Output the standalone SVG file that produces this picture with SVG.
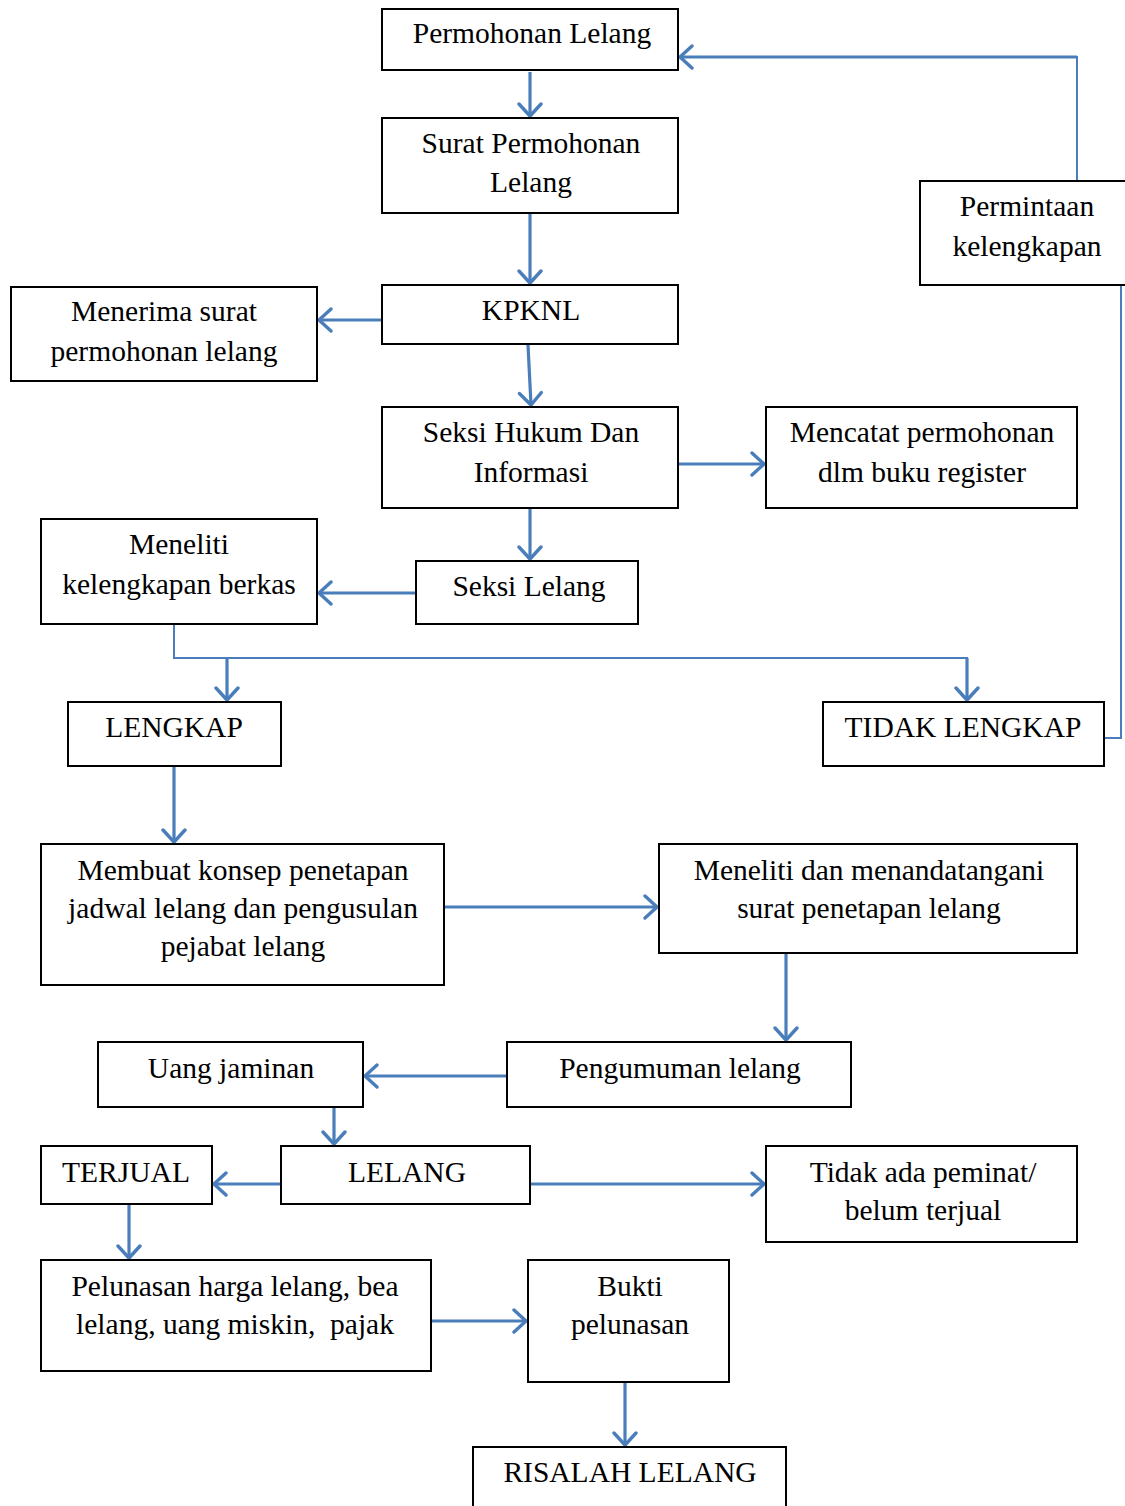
<svg xmlns="http://www.w3.org/2000/svg" width="1125" height="1506" viewBox="0 0 1125 1506">
<style>
.box{fill:#fff;stroke:#000;stroke-width:2}
.t{font-family:"Liberation Serif","Times New Roman",serif;font-size:29.5px;fill:#000;text-anchor:middle}
.c{fill:none;stroke:#4a7ebb;stroke-width:3.2}
.thin{fill:none;stroke:#4a7ebb;stroke-width:2}
</style>
<defs>
<marker id="ah" markerUnits="userSpaceOnUse" markerWidth="30" markerHeight="30" refX="16" refY="13" orient="auto">
<path d="M4,2 L16,13 L4,24" fill="none" stroke="#4a7ebb" stroke-width="3.4" stroke-linecap="round" stroke-linejoin="round"/>
</marker>
</defs>
<rect width="1125" height="1506" fill="#fff"/>
<g id="connectors">
<line class="c" x1="530" y1="72" x2="530" y2="116" marker-end="url(#ah)"/>
<line class="c" x1="530" y1="214" x2="530" y2="283" marker-end="url(#ah)"/>
<line class="c" x1="382" y1="320" x2="319" y2="320" marker-end="url(#ah)"/>
<line class="c" x1="528" y1="345" x2="531" y2="405" marker-end="url(#ah)"/>
<line class="c" x1="679" y1="464" x2="764" y2="464" marker-end="url(#ah)"/>
<line class="c" x1="530" y1="509" x2="530" y2="559" marker-end="url(#ah)"/>
<line class="c" x1="416" y1="593" x2="319" y2="593" marker-end="url(#ah)"/>
<polyline class="thin" points="174,625 174,658 967,658 967,675"/>
<line class="c" x1="967" y1="658" x2="967" y2="700" marker-end="url(#ah)"/>
<line class="c" x1="227" y1="658" x2="227" y2="700" marker-end="url(#ah)"/>
<polyline class="thin" points="1104,738 1121,738 1121,286"/>
<polyline class="thin" points="1077,181 1077,57 900,57"/>
<line class="c" x1="1077" y1="57" x2="680" y2="57" marker-end="url(#ah)"/>
<line class="c" x1="174" y1="767" x2="174" y2="842" marker-end="url(#ah)"/>
<line class="c" x1="445" y1="907" x2="657" y2="907" marker-end="url(#ah)"/>
<line class="c" x1="786" y1="954" x2="786" y2="1040" marker-end="url(#ah)"/>
<line class="c" x1="507" y1="1076" x2="365" y2="1076" marker-end="url(#ah)"/>
<line class="c" x1="334" y1="1108" x2="334" y2="1144" marker-end="url(#ah)"/>
<line class="c" x1="281" y1="1184" x2="214" y2="1184" marker-end="url(#ah)"/>
<line class="c" x1="531" y1="1184" x2="764" y2="1184" marker-end="url(#ah)"/>
<line class="c" x1="129" y1="1205" x2="129" y2="1258" marker-end="url(#ah)"/>
<line class="c" x1="432" y1="1321" x2="526" y2="1321" marker-end="url(#ah)"/>
<line class="c" x1="625" y1="1383" x2="625" y2="1445" marker-end="url(#ah)"/>
</g>
<g id="n1"><rect class="box" x="382" y="9" width="296" height="61"/><text class="t" x="532" y="43">Permohonan Lelang</text></g>
<g id="n2"><rect class="box" x="382" y="118" width="296" height="95"/><text class="t" x="531" y="153">Surat Permohonan</text><text class="t" x="531" y="192">Lelang</text></g>
<g id="n3"><rect class="box" x="382" y="285" width="296" height="59"/><text class="t" x="531" y="320">KPKNL</text></g>
<g id="n4"><rect class="box" x="11" y="287" width="306" height="94"/><text class="t" x="164" y="321">Menerima surat</text><text class="t" x="164" y="361">permohonan lelang</text></g>
<g id="n5"><rect class="box" x="382" y="407" width="296" height="101"/><text class="t" x="531" y="442">Seksi Hukum Dan</text><text class="t" x="531" y="482">Informasi</text></g>
<g id="n6"><rect class="box" x="766" y="407" width="311" height="101"/><text class="t" x="922" y="442">Mencatat permohonan</text><text class="t" x="922" y="482">dlm buku register</text></g>
<g id="n7"><rect class="box" x="41" y="519" width="276" height="105"/><text class="t" x="179" y="554">Meneliti</text><text class="t" x="179" y="594">kelengkapan berkas</text></g>
<g id="n8"><rect class="box" x="416" y="561" width="222" height="63"/><text class="t" x="529" y="596">Seksi Lelang</text></g>
<g id="n9"><rect class="box" x="68" y="702" width="213" height="64"/><text class="t" x="174" y="737">LENGKAP</text></g>
<g id="n10"><rect class="box" x="823" y="702" width="281" height="64"/><text class="t" x="963" y="737">TIDAK LENGKAP</text></g>
<g id="n11"><rect class="box" x="920" y="181" width="210" height="104"/><text class="t" x="1027" y="216">Permintaan</text><text class="t" x="1027" y="256">kelengkapan</text></g>
<g id="n12"><rect class="box" x="41" y="844" width="403" height="141"/><text class="t" x="243" y="880">Membuat konsep penetapan</text><text class="t" x="243" y="918">jadwal lelang dan pengusulan</text><text class="t" x="243" y="956">pejabat lelang</text></g>
<g id="n13"><rect class="box" x="659" y="844" width="418" height="109"/><text class="t" x="869" y="880">Meneliti dan menandatangani</text><text class="t" x="869" y="918">surat penetapan lelang</text></g>
<g id="n14"><rect class="box" x="507" y="1042" width="344" height="65"/><text class="t" x="680" y="1078">Pengumuman lelang</text></g>
<g id="n15"><rect class="box" x="98" y="1042" width="265" height="65"/><text class="t" x="231" y="1078">Uang jaminan</text></g>
<g id="n16"><rect class="box" x="41" y="1146" width="171" height="58"/><text class="t" x="126" y="1182">TERJUAL</text></g>
<g id="n17"><rect class="box" x="281" y="1146" width="249" height="58"/><text class="t" x="407" y="1182">LELANG</text></g>
<g id="n18"><rect class="box" x="766" y="1146" width="311" height="96"/><text class="t" x="923" y="1182">Tidak ada peminat/</text><text class="t" x="923" y="1220">belum terjual</text></g>
<g id="n19"><rect class="box" x="41" y="1260" width="390" height="111"/><text class="t" x="235" y="1296">Pelunasan harga lelang, bea</text><text class="t" x="235" y="1334">lelang, uang miskin,&#160; pajak</text></g>
<g id="n20"><rect class="box" x="528" y="1260" width="201" height="122"/><text class="t" x="630" y="1296">Bukti</text><text class="t" x="630" y="1334">pelunasan</text></g>
<g id="n21"><rect class="box" x="473" y="1447" width="313" height="70"/><text class="t" x="630" y="1482">RISALAH LELANG</text></g>
</svg>
